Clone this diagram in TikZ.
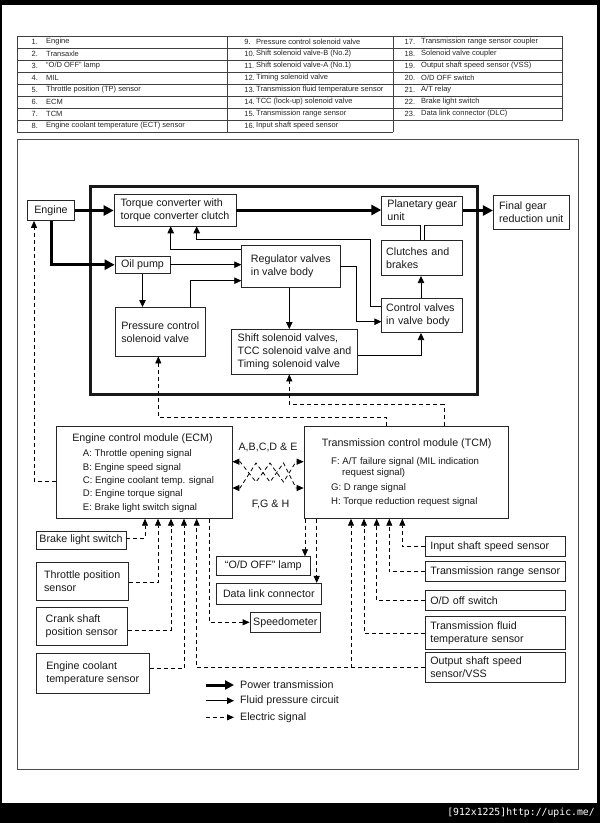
\documentclass[tikz,border=0pt]{standalone}
\usepackage{fontspec}
\setmainfont{Liberation Sans}
\newfontfamily\markfont{DejaVu Sans Mono}
\usetikzlibrary{arrows.meta}

\begin{document}
\begin{tikzpicture}[
                x=1pt, y=-1pt,
                box/.style={draw=black!85, line width=0.7pt, inner sep=0pt, align=left, text=black!90, font=\fontsize{10.7}{13}\selectfont},
                padbox/.style={box, inner xsep=4.5pt, text width=#1},
                note/.style={inner sep=0pt, text=black!90, font=\fontsize{10.7}{13}\selectfont},
                cell/.style={anchor=west, inner sep=0pt, text=black!85, font=\fontsize{7.5}{9}\selectfont},
                cellline/.style={draw=black!75, line width=0.6pt},
                power/.style={line width=3pt, -{Triangle[length=10pt,width=10pt]}},
                fluid/.style={line width=0.8pt, -{Triangle[length=7pt,width=6.5pt]}},
                signal/.style={line width=0.8pt, dash pattern=on 4pt off 3pt, -{Triangle[length=7pt,width=6pt]}},
                link/.style={line width=0.8pt, dash pattern=on 4pt off 3pt, {Triangle[length=7pt,width=6pt]}-{Triangle[length=7pt,width=6pt]}}
            ]
            % Frame of the page
            \fill[black] (0,0) rectangle (600,823);
            \fill[white] (2,5) rectangle (597,803);
            \useasboundingbox (0,0) rectangle (600,823);
            \node[anchor=east, inner sep=0pt, text=white, font=\markfont\fontsize{9.8}{12}\selectfont] (upic) at (595,813) {[912x1225]http://upic.me/};

            % Table of parts
            \foreach \k in {0,...,8} { \draw[cellline] (17,{36+12*\k}) -- (393.4,{36+12*\k}); }
            \foreach \k in {0,...,7} { \draw[cellline] (393.4,{36+12*\k}) -- (562.6,{36+12*\k}); }
            \foreach \x in {17,227.7,393.4} { \draw[cellline] (\x,36) -- (\x,132); }
            \draw[cellline] (562.6,36) -- (562.6,120);
            \foreach \idx/\what [count=\i] in {1/Engine, 2/Transaxle, 3/{“O/D OFF” lamp}, 4/MIL, 5/Throttle position (TP) sensor, 6/ECM, 7/TCM, 8/Engine coolant temperature (ECT) sensor} {
                \node[cell] (num\idx) at (31.4,{30+12*\i}) {\idx.};
                \node[cell] (part\idx) at (46,{30+12*\i}) {\what};
            }
            \foreach \idx/\what [count=\i] in {9/Pressure control solenoid valve, 10/Shift solenoid valve-B (No.2), 11/Shift solenoid valve-A (No.1), 12/Timing solenoid valve, 13/Transmission fluid temperature sensor, 14/TCC (lock-up) solenoid valve, 15/Transmission range sensor, 16/Input shaft speed sensor} {
                \node[cell] (num\idx) at (244.2,{30+12*\i}) {\idx.};
                \node[cell] (part\idx) at (256,{30+12*\i}) {\what};
            }
            \foreach \idx/\what [count=\i] in {17/Transmission range sensor coupler, 18/Solenoid valve coupler, 19/Output shaft speed sensor (VSS), 20/{O/D OFF switch}, 21/{A/T relay}, 22/Brake light switch, 23/Data link connector (DLC)} {
                \node[cell] (num\idx) at (404.5,{30+12*\i}) {\idx.};
                \node[cell] (part\idx) at (421,{30+12*\i}) {\what};
            }

            % Diagram frame and transaxle
            \draw[black!70, line width=0.6pt] (17,139.5) rectangle (578.5,769);
            \draw[black!90, line width=3pt] (90.7,186) rectangle (477,394.5);

            % Power train
            \node[box, align=center, minimum width=47pt, minimum height=20pt] (engine) at (51,210.5) {Engine};
            \node[box, minimum width=122pt, minimum height=32pt] (torque) at (175,210) {Torque converter with\\torque converter clutch};
            \node[box, minimum width=81pt, minimum height=29pt] (planet) at (422.2,210.5) {Planetary gear\\unit};
            \node[box, minimum width=76pt, minimum height=34pt] (final) at (531.3,212.5) {Final gear\\reduction unit};
            \node[padbox=72pt, minimum height=35pt] (clutch) at (422.2,258.2) {Clutches and\\brakes};

            % Hydraulic parts
            \node[box, minimum width=55pt, minimum height=17.3pt] (oil) at (142.5,264.7) {Oil pump};
            \node[box, minimum width=98.3pt, minimum height=42.3pt] (reg) at (290.8,266.2) {Regulator valves\\in valve body};
            \node[padbox=72pt, minimum height=34.4pt] (ctrl) at (422.2,315.5) {Control valves\\in valve body};
            \node[box, minimum width=90.7pt, minimum height=48.7pt] (press) at (160.3,331.7) {Pressure control\\solenoid valve};
            \node[box, minimum width=125.6pt, minimum height=44.7pt] (shift) at (294.5,351.7) {Shift solenoid valves,\\TCC solenoid valve and\\Timing solenoid valve};

            % Control modules
            \node[box, minimum width=176pt, minimum height=92.3pt] (ecm) at (144,472.2) {};
            \node[note] (ecmhead) at (142.5,438.3) {Engine control module (ECM)};
            \node[note, anchor=west, align=left, font=\fontsize{9.6}{13.35}\selectfont] (ecmsig) at (82.7,481) {A: Throttle opening signal\\B: Engine speed signal\\C: Engine coolant temp. signal\\D: Engine torque signal\\E: Brake light switch signal};
            \node[box, minimum width=204.3pt, minimum height=92.3pt] (tcm) at (406.2,472.2) {};
            \node[note] (tcmhead) at (406.7,444) {Transmission control module (TCM)};
            \node[note, anchor=west, align=left, font=\fontsize{9.6}{11}\selectfont] (tcmsig) at (331,482.5) {F: A/T failure signal (MIL indication\\\hspace*{11pt}request signal)\\[3.6pt]G: D range signal\\[3.4pt]H: Torque reduction request signal};
            \node[note] (upsig) at (268,447.7) {A,B,C,D \& E};
            \node[note] (downsig) at (270.6,504) {F,G \& H};

            % Sensors and outputs
            \node[box, align=center, minimum width=90pt, minimum height=18.3pt] (brake) at (81,540.2) {Brake light switch};
            \node[box, minimum width=92.3pt, minimum height=37.3pt] (throttle) at (82.2,581.3) {Throttle position\\sensor};
            \node[box, minimum width=91.3pt, minimum height=37.7pt] (crank) at (81.7,626.2) {Crank shaft\\position sensor};
            \node[box, minimum width=113.3pt, minimum height=40pt] (coolant) at (92.7,673.3) {Engine coolant\\temperature sensor};
            \node[box, align=center, minimum width=93.3pt, minimum height=18.3pt] (lamp) at (263.3,565.8) {“O/D OFF” lamp};
            \node[box, align=center, minimum width=105.7pt, minimum height=21pt] (dlc) at (268.8,593.8) {Data link connector};
            \node[box, align=center, minimum width=70.7pt, minimum height=20pt] (speedo) at (285.3,622.3) {Speedometer};
            \node[padbox=131pt, minimum height=20pt] (input) at (495.8,546.7) {Input shaft speed sensor};
            \node[padbox=131pt, minimum height=20pt] (range) at (495.8,571.7) {Transmission range sensor};
            \node[padbox=131pt, minimum height=19.3pt] (odsw) at (495.8,600.3) {O/D off switch};
            \node[padbox=131pt, minimum height=32.6pt] (tft) at (495.8,633) {Transmission fluid\\temperature sensor};
            \node[padbox=131pt, minimum height=30.4pt] (output) at (495.8,667.5) {Output shaft speed\\sensor/VSS};

            % Power transmission
            \draw[power] (engine.east) -- (torque.west |- engine.east);
            \draw[power] (engine.south) |- (oil.west);
            \draw[power] (torque.east) -- (planet.west |- torque.east);
            \draw[power] (planet.east) -- (final.west |- planet.east);

            % Fluid pressure circuit
            \draw[fluid] (reg.west |- 0,249) -| (torque.south -| 170.7,0);
            \draw[fluid] (ctrl.west |- 0,306.7) -| (370,239.3) -| (torque.south -| 196.7,0);
            \draw[fluid] (oil.east) -- (reg.west |- oil.east);
            \draw[fluid] (oil.south) -- (press.north -| oil.south);
            \draw[fluid] (press.north -| 190.7,0) |- (reg.west |- 0,280.7);
            \draw[fluid] (reg.east) -| (356,321.7) -- (ctrl.west |- 0,321.7);
            \draw[fluid] (reg.south -| 289.3,0) -- (shift.north -| 289.3,0);
            \draw[fluid] (shift.east |- 0,355.7) -| (ctrl.south -| 421,0);
            \draw[fluid] (ctrl.north -| 421,0) -- (clutch.south -| 421,0);
            \draw[line width=0.8pt, double distance=2.8pt] (planet.south -| 422.5,0) -- (clutch.north -| 422.5,0);

            % Electric signals
            \draw[signal] (tcm.north -| 386.7,0) -- ++(0,-8.3) -| (press.south -| 158.3,0);
            \draw[signal] (tcm.north -| 444,0) -- ++(0,-21) -| (shift.south -| 289.3,0);
            \draw[signal] (ecm.west |- 0,481) -| (engine.south -| 34,0);
            \coordinate (twup) at (0,461.7);
            \coordinate (twdn) at (0,488);
            \draw[link] (ecm.east |- twup) -- (240,461.7) -- (256,482) -- (270,463) -- (283.5,482) -- (296,461.7) -- (tcm.west |- twup);
            \draw[link] (ecm.east |- twdn) -- (240,488) -- (256,463) -- (270,482) -- (283.5,463) -- (296,488) -- (tcm.west |- twdn);
            \foreach \s/\x/\dy in {brake/145/1.9, throttle/158/-1, crank/171/-3.8, coolant/184/5} { \draw[signal] ([yshift=\dy pt]\s.east) -| (ecm.south -| \x,0); }
            \foreach \s/\x in {input/402.3, range/389.3, odsw/376.7, tft/364} { \draw[signal] (\s.west) -| (tcm.south -| \x,0); }
            \draw[signal] (output.west) -| (ecm.south -| 196.7,0);
            \draw[signal] (output.west -| 351,0) -- (tcm.south -| 351,0);
            \draw[signal] (tcm.south -| 305,0) -- (lamp.north -| 305,0);
            \draw[signal] (tcm.south -| 316.7,0) -- (dlc.north -| 316.7,0);
            \draw[signal] (ecm.south -| 209.3,0) |- (speedo.west);

            % Legend
            \node[note, anchor=west] (powerkey) at (240,685) {Power transmission};
            \node[note, anchor=west] (fluidkey) at (240,700.7) {Fluid pressure circuit};
            \node[note, anchor=west] (signalkey) at (240,717.3) {Electric signal};
            \coordinate (powerfrom) at (205.5,685);
            \coordinate (fluidfrom) at (205.5,700.7);
            \coordinate (signalfrom) at (205.5,717.3);
            \draw[power, -{Triangle[length=9pt,width=9pt]}] (powerfrom) -- ([xshift=-6pt]powerkey.west);
            \draw[fluid] (fluidfrom) -- ([xshift=-6pt]fluidkey.west);
            \draw[signal] (signalfrom) -- ([xshift=-6pt]signalkey.west);

        \end{tikzpicture}
\end{document}
